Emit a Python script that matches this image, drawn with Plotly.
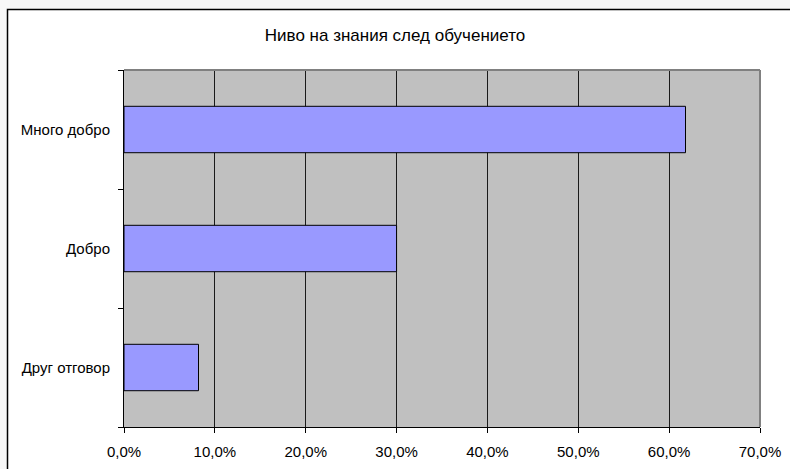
import plotly.graph_objects as go

categories = ["Друг отговор", "Добро", "Много добро"]
values = [8.2, 30.0, 61.8]
x_ticks = [0, 10, 20, 30, 40, 50, 60, 70]
x_tick_labels = ["0,0%", "10,0%", "20,0%", "30,0%", "40,0%", "50,0%", "60,0%", "70,0%"]
title = "Ниво на знания след обучението"

W, H = 790, 469
L, R, T, B = 124, 30, 70, 42
pw, ph = W - L - R, H - T - B

def px_x(p):
    return (p - L) / pw

def px_y(p):
    return 1 - (p - T) / ph

fig = go.Figure(go.Bar(
    x=values, y=categories, orientation="h",
    marker=dict(color="#9999FF", line=dict(color="#000000", width=1)),
    hoverinfo="skip",
))

# light page strips outside the chart frame
fig.add_shape(type="rect", xref="paper", yref="paper", layer="below",
              x0=px_x(-5), x1=px_x(W + 5), y0=px_y(9), y1=px_y(-5),
              line=dict(width=0), fillcolor="#F7F7F7")
fig.add_shape(type="rect", xref="paper", yref="paper", layer="below",
              x0=px_x(-5), x1=px_x(7), y0=px_y(H + 5), y1=px_y(-5),
              line=dict(width=0), fillcolor="#F7F7F7")
# outer chart frame
fig.add_shape(type="rect", xref="paper", yref="paper", layer="above",
              x0=px_x(7.5), x1=px_x(W + 10), y0=px_y(H + 10), y1=px_y(9.5),
              line=dict(color="#000000", width=1.5), fillcolor="rgba(0,0,0,0)")
# plot border top/right
fig.add_shape(type="line", xref="paper", yref="paper", x0=0, x1=1, y0=1, y1=1,
              line=dict(color="#808080", width=2))
fig.add_shape(type="line", xref="paper", yref="paper", x0=1, x1=1, y0=0, y1=1,
              line=dict(color="#808080", width=2))

fig.update_layout(
    width=W, height=H,
    margin=dict(l=L, r=R, t=T, b=B, autoexpand=False),
    paper_bgcolor="#FFFFFF",
    plot_bgcolor="#C0C0C0",
    bargap=0.61,
    showlegend=False,
    font=dict(family="Liberation Sans, Arial, sans-serif", size=15, color="#000000"),
    title=dict(text=title, x=0.5, xanchor="center", y=1 - 35 / H, yanchor="middle",
               font=dict(size=17, color="#000000")),
    xaxis=dict(range=[0, 70], tickvals=x_ticks, ticktext=x_tick_labels,
               showgrid=True, gridcolor="#1A1A1A", gridwidth=1,
               showline=True, linecolor="#000000", linewidth=1,
               ticks="outside", ticklen=5, tickcolor="#000000", zeroline=False,
               ticklabelstandoff=6,
               tickfont=dict(size=15), fixedrange=True, automargin=False),
    yaxis=dict(categoryorder="array", categoryarray=categories,
               showgrid=False, showline=True, linecolor="#000000", linewidth=1,
               ticks="outside", ticklen=5, tickcolor="#000000", tickson="boundaries",
               ticklabelstandoff=10, tickfont=dict(size=15), fixedrange=True,
               automargin=False),
)

fig.write_html("out.html", config={"displayModeBar": False},
               post_script="document.body.style.margin='0';document.body.style.overflow='hidden';")
